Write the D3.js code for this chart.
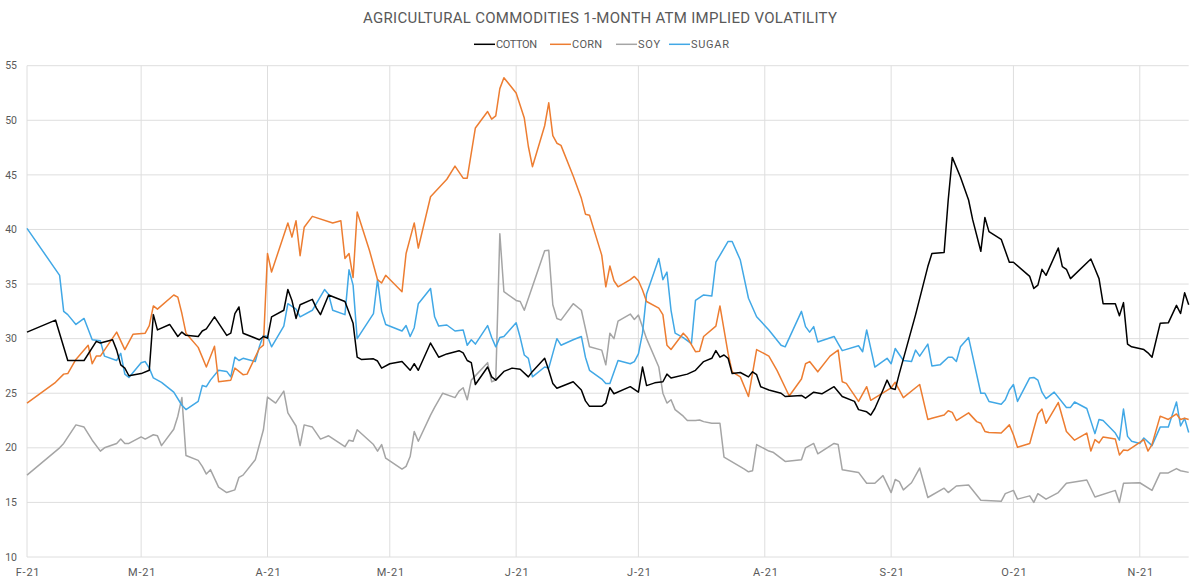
<!DOCTYPE html>
<html>
<head>
<meta charset="utf-8">
<script src="https://cdn.jsdelivr.net/npm/d3@7"></script>
<style>
  html, body { margin: 0; padding: 0; background: #fff; }
  svg { display: block; font-family: Roboto, "Open Sans", sans-serif; }
</style>
</head>
<body>
<script>
// 1-month ATM implied vol, 2021 (dates as MM-DD)
var cotton = [["02-01",30.6],["02-08",31.7],["02-11",28.0],["02-15",28.0],["02-18",29.75],["02-19",29.6],["02-22",29.9],["02-23",28.95],["02-24",27.6],["02-25",27.3],["02-26",26.6],["03-01",26.8],["03-03",27.1],["03-04",32.2],["03-05",30.8],["03-08",31.3],["03-10",30.2],["03-11",30.6],["03-12",30.3],["03-15",30.2],["03-16",30.7],["03-17",30.9],["03-19",32.0],["03-22",30.3],["03-23",30.5],["03-24",32.3],["03-25",32.9],["03-26",30.5],["03-30",29.9],["03-31",30.2],["04-01",30.05],["04-02",32.0],["04-05",32.6],["04-06",34.5],["04-07",33.5],["04-08",31.85],["04-09",33.1],["04-12",33.6],["04-13",32.8],["04-14",32.2],["04-16",34.0],["04-20",33.4],["04-22",31.4],["04-23",28.3],["04-24",28.1],["04-27",28.15],["04-28",27.95],["04-29",27.3],["05-01",27.7],["05-04",27.9],["05-06",27.1],["05-07",27.7],["05-08",27.1],["05-11",29.6],["05-13",28.3],["05-15",28.6],["05-18",28.9],["05-19",28.7],["05-20",28.0],["05-21",27.8],["05-22",25.8],["05-25",27.4],["05-26",26.5],["05-27",26.2],["05-29",27.0],["05-31",27.3],["06-02",27.2],["06-04",26.5],["06-05",27.0],["06-08",28.2],["06-09",27.1],["06-10",25.9],["06-11",25.45],["06-15",26.05],["06-17",25.3],["06-18",24.3],["06-19",23.8],["06-22",23.8],["06-23",24.1],["06-24",25.5],["06-25",24.95],["06-29",25.6],["07-01",25.1],["07-02",27.4],["07-03",25.7],["07-05",25.95],["07-07",26.05],["07-08",26.75],["07-09",26.4],["07-13",26.75],["07-15",27.1],["07-17",27.9],["07-19",28.2],["07-20",28.9],["07-21",28.3],["07-22",28.5],["07-23",28.2],["07-24",26.8],["07-26",26.9],["07-28",26.5],["07-29",26.96],["07-30",26.7],["07-31",25.6],["08-02",25.3],["08-05",25.0],["08-06",24.7],["08-10",24.8],["08-11",24.55],["08-13",25.1],["08-15",24.95],["08-18",25.6],["08-20",24.7],["08-23",24.25],["08-24",23.5],["08-26",23.3],["08-27",23.0],["08-28",23.6],["08-30",25.3],["08-31",26.2],["09-01",25.45],["09-02",25.35],["09-03",26.8],["09-07",32.2],["09-10",36.6],["09-11",37.8],["09-14",37.9],["09-15",42.7],["09-16",46.6],["09-18",44.8],["09-20",42.7],["09-21",40.9],["09-23",38.0],["09-24",41.1],["09-25",39.8],["09-28",39.1],["09-30",37.0],["10-01",37.0],["10-05",35.7],["10-06",34.6],["10-07",34.9],["10-08",36.35],["10-09",35.8],["10-12",38.3],["10-13",36.6],["10-14",36.35],["10-15",35.5],["10-20",37.3],["10-21",36.4],["10-22",35.5],["10-23",33.2],["10-26",33.2],["10-27",32.1],["10-28",33.3],["10-29",29.5],["10-30",29.25],["11-02",29.0],["11-03",28.7],["11-04",28.3],["11-06",31.4],["11-08",31.45],["11-10",33.05],["11-11",32.3],["11-12",34.2],["11-13",33.1]];

var corn = [["02-01",24.1],["02-08",26.0],["02-10",26.75],["02-11",26.8],["02-13",28.1],["02-16",29.4],["02-17",27.7],["02-18",28.4],["02-19",28.4],["02-23",30.6],["02-25",29.0],["02-27",30.4],["03-02",30.5],["03-03",31.2],["03-04",33.0],["03-05",32.7],["03-09",34.0],["03-10",33.8],["03-11",32.3],["03-12",30.5],["03-15",29.2],["03-17",27.4],["03-19",29.3],["03-20",26.05],["03-23",26.2],["03-24",27.3],["03-26",26.7],["03-27",26.75],["03-30",29.1],["03-31",29.4],["04-01",37.8],["04-02",36.1],["04-06",40.6],["04-07",39.3],["04-08",40.8],["04-09",37.6],["04-10",40.2],["04-12",41.2],["04-17",40.6],["04-19",40.8],["04-20",37.35],["04-21",37.8],["04-22",35.6],["04-23",41.6],["04-26",38.1],["04-28",35.4],["04-29",35.1],["04-30",35.8],["05-04",34.3],["05-05",37.8],["05-07",40.6],["05-08",38.3],["05-11",43.0],["05-15",44.6],["05-17",45.8],["05-19",44.7],["05-20",44.7],["05-22",49.3],["05-25",50.8],["05-26",50.1],["05-27",50.4],["05-28",52.9],["05-29",53.9],["06-01",52.5],["06-03",50.2],["06-04",47.6],["06-05",45.75],["06-08",49.5],["06-09",51.6],["06-10",48.6],["06-11",47.9],["06-12",47.7],["06-15",44.9],["06-17",42.85],["06-18",41.4],["06-19",41.3],["06-22",37.65],["06-23",34.75],["06-24",36.65],["06-25",35.3],["06-26",34.75],["06-29",35.4],["06-30",35.7],["07-01",35.3],["07-02",34.45],["07-03",33.4],["07-06",32.8],["07-07",32.2],["07-08",29.4],["07-09",29.0],["07-12",30.5],["07-13",30.1],["07-15",28.8],["07-16",28.85],["07-17",30.2],["07-20",31.15],["07-21",33.0],["07-23",28.65],["07-24",26.96],["07-26",26.5],["07-28",24.7],["07-30",29.0],["08-02",28.4],["08-04",27.1],["08-07",24.75],["08-10",26.3],["08-11",27.7],["08-12",27.9],["08-14",26.96],["08-17",28.4],["08-19",28.95],["08-20",26.05],["08-21",25.9],["08-24",24.25],["08-26",25.6],["08-27",24.35],["09-01",25.5],["09-02",26.0],["09-04",24.6],["09-08",25.8],["09-10",22.6],["09-11",22.7],["09-14",23.0],["09-15",23.4],["09-16",23.25],["09-17",22.5],["09-20",23.2],["09-22",22.4],["09-23",22.25],["09-24",21.5],["09-25",21.4],["09-28",21.35],["09-30",22.1],["10-01",21.2],["10-02",20.05],["10-05",20.4],["10-07",23.1],["10-08",23.55],["10-09",22.25],["10-12",24.15],["10-14",21.5],["10-16",20.7],["10-19",21.35],["10-20",19.7],["10-21",20.75],["10-22",20.45],["10-23",21.0],["10-26",20.8],["10-27",19.35],["10-28",19.8],["10-29",19.75],["11-02",20.75],["11-03",19.7],["11-04",20.3],["11-06",22.9],["11-08",22.6],["11-10",23.1],["11-11",22.6],["11-12",22.7],["11-13",22.6]];

var soy = [["02-01",17.5],["02-09",20.0],["02-10",20.4],["02-13",22.1],["02-15",21.9],["02-17",20.7],["02-19",19.7],["02-20",20.0],["02-23",20.4],["02-24",20.8],["02-25",20.4],["02-26",20.4],["03-01",21.0],["03-02",20.8],["03-04",21.2],["03-05",21.1],["03-06",20.2],["03-09",21.7],["03-10",22.9],["03-11",24.6],["03-12",19.3],["03-15",18.85],["03-16",18.3],["03-17",17.6],["03-18",18.0],["03-20",16.4],["03-22",15.9],["03-24",16.15],["03-25",17.3],["03-26",17.5],["03-29",18.9],["03-31",21.65],["04-01",24.65],["04-03",24.1],["04-05",25.2],["04-06",23.2],["04-08",22.0],["04-09",20.2],["04-10",22.1],["04-12",21.9],["04-14",20.8],["04-16",21.1],["04-20",20.1],["04-21",20.7],["04-22",20.6],["04-23",21.65],["04-27",20.3],["04-28",19.7],["04-29",20.3],["04-30",19.05],["05-04",18.05],["05-05",18.3],["05-06",19.2],["05-07",21.5],["05-08",20.6],["05-11",23.0],["05-12",23.7],["05-14",25.0],["05-17",24.6],["05-18",25.2],["05-19",25.5],["05-20",24.4],["05-21",26.2],["05-25",27.8],["05-26",26.05],["05-27",26.2],["05-28",39.6],["05-29",34.3],["06-01",33.5],["06-02",33.4],["06-03",32.6],["06-08",38.05],["06-09",38.1],["06-10",33.1],["06-11",31.85],["06-12",31.7],["06-15",33.2],["06-17",32.6],["06-19",29.25],["06-22",28.95],["06-23",27.6],["06-24",30.5],["06-25",30.0],["06-26",31.6],["06-29",32.25],["06-30",31.76],["07-01",32.16],["07-03",30.0],["07-06",27.4],["07-07",25.0],["07-08",24.1],["07-09",24.4],["07-10",23.5],["07-12",22.9],["07-13",22.5],["07-15",22.5],["07-16",22.55],["07-17",22.4],["07-19",22.25],["07-21",22.25],["07-22",19.15],["07-27",18.05],["07-28",17.8],["07-29",17.9],["07-30",20.3],["08-02",19.7],["08-03",19.6],["08-06",18.75],["08-10",18.9],["08-11",20.0],["08-13",20.4],["08-14",19.45],["08-18",20.4],["08-19",20.3],["08-20",18.0],["08-24",17.75],["08-26",16.75],["08-28",16.75],["08-30",17.45],["09-01",15.9],["09-02",17.1],["09-03",16.9],["09-04",16.15],["09-06",16.8],["09-08",18.15],["09-10",15.45],["09-14",16.3],["09-15",15.9],["09-17",16.5],["09-20",16.6],["09-23",15.2],["09-28",15.1],["09-29",15.8],["10-01",16.1],["10-02",15.3],["10-05",15.6],["10-06",15.0],["10-07",15.8],["10-09",15.3],["10-12",15.9],["10-14",16.75],["10-19",17.05],["10-21",15.5],["10-26",16.1],["10-27",15.0],["10-28",16.75],["11-01",16.8],["11-04",16.1],["11-06",17.7],["11-08",17.7],["11-10",18.1],["11-11",17.9],["11-13",17.75]];

var sugar = [["02-01",40.1],["02-09",35.8],["02-10",32.5],["02-11",32.2],["02-13",31.3],["02-15",31.85],["02-17",29.9],["02-19",29.8],["02-20",28.4],["02-23",28.0],["02-24",28.65],["02-25",26.75],["02-26",26.45],["03-01",27.8],["03-02",27.9],["03-03",27.3],["03-04",26.4],["03-06",26.0],["03-09",25.1],["03-11",23.9],["03-12",23.5],["03-15",24.25],["03-16",25.7],["03-17",25.6],["03-18",26.2],["03-20",27.1],["03-22",27.0],["03-23",26.5],["03-24",28.3],["03-25",28.0],["03-26",28.2],["03-29",27.9],["03-30",29.25],["03-31",30.3],["04-01",30.2],["04-02",29.25],["04-05",31.15],["04-06",33.2],["04-08",32.7],["04-09",32.0],["04-12",32.6],["04-15",34.5],["04-16",34.05],["04-17",32.6],["04-20",32.2],["04-21",36.3],["04-22",34.9],["04-23",30.0],["04-27",32.3],["04-28",35.4],["04-29",32.5],["04-30",31.3],["05-04",30.7],["05-05",31.2],["05-06",30.2],["05-07",31.0],["05-08",33.2],["05-11",34.6],["05-12",32.0],["05-13",31.15],["05-15",31.25],["05-17",30.7],["05-19",30.8],["05-20",29.4],["05-21",29.9],["05-22",29.5],["05-25",31.2],["05-26",30.1],["05-27",29.25],["05-28",30.1],["05-29",30.2],["06-01",31.45],["06-02",30.1],["06-03",28.5],["06-04",28.2],["06-05",26.5],["06-08",27.4],["06-09",27.3],["06-11",30.0],["06-12",29.4],["06-15",29.9],["06-17",30.2],["06-18",28.3],["06-19",27.1],["06-22",26.3],["06-23",25.9],["06-24",25.9],["06-26",28.0],["06-29",27.7],["06-30",27.9],["07-01",28.6],["07-02",30.5],["07-03",34.1],["07-06",37.35],["07-07",35.4],["07-08",36.1],["07-09",32.6],["07-10",30.5],["07-12",30.1],["07-14",29.55],["07-15",33.5],["07-17",34.0],["07-19",33.9],["07-20",37.0],["07-23",38.9],["07-24",38.9],["07-26",37.2],["07-28",33.7],["07-30",32.0],["08-02",30.8],["08-05",29.4],["08-06",29.25],["08-10",32.5],["08-11",31.1],["08-12",30.6],["08-13",31.1],["08-14",29.7],["08-18",30.2],["08-19",29.55],["08-20",28.9],["08-24",29.35],["08-25",28.8],["08-26",30.8],["08-28",27.4],["08-31",28.2],["09-01",27.7],["09-02",29.1],["09-04",28.0],["09-06",27.9],["09-07",28.95],["09-08",28.4],["09-10",29.5],["09-11",27.5],["09-13",27.6],["09-15",28.3],["09-16",28.3],["09-17",27.9],["09-18",29.25],["09-20",30.1],["09-23",25.0],["09-24",25.0],["09-25",24.25],["09-28",24.0],["09-29",24.4],["09-30",25.3],["10-01",25.8],["10-02",24.25],["10-05",26.4],["10-06",26.45],["10-07",26.2],["10-08",25.1],["10-09",24.5],["10-11",25.1],["10-14",23.7],["10-15",23.7],["10-16",24.2],["10-19",23.6],["10-21",21.3],["10-22",22.6],["10-23",22.5],["10-26",21.35],["10-27",20.7],["10-28",23.55],["10-29",21.05],["10-30",20.6],["11-01",20.4],["11-02",20.9],["11-04",20.2],["11-06",21.9],["11-08",21.9],["11-10",24.2],["11-11",22.0],["11-12",22.7],["11-13",21.4]];

var seriesNames = ["COTTON", "CORN", "SOY", "SUGAR"];
var seriesColors = ["#000000", "#ed7d31", "#a5a5a5", "#41a8e6"];
var monthLabels = ["F-21", "M-21", "A-21", "M-21", "J-21", "J-21", "A-21", "S-21", "O-21", "N-21"];
var yTicks = [10, 15, 20, 25, 30, 35, 40, 45, 50, 55];

var width = 1200, height = 583;
var margin = {top: 65.7, right: 11.3, bottom: 26, left: 27};

var parse = d3.timeParse("%Y-%m-%d");
function toPoints(arr) {
    return arr.map(function(d) { return {date: parse("2021-" + d[0]), value: d[1]}; });
}
var allSeries = [cotton, corn, soy, sugar].map(toPoints);

var x = d3.scaleTime()
    .domain([new Date(2021, 1, 1), new Date(2021, 10, 13)])
    .range([margin.left, width - margin.right]);

var y = d3.scaleLinear()
    .domain([10, 55])
    .range([height - margin.bottom, margin.top]);

var svg = d3.select("body").append("svg")
    .attr("width", width)
    .attr("height", height);

var months = d3.timeMonth.range(new Date(2021, 1, 1), new Date(2021, 10, 2));

// gridlines
svg.append("g")
    .selectAll("line")
    .data(yTicks)
    .enter().append("line")
    .attr("x1", margin.left).attr("x2", width - margin.right)
    .attr("y1", function(d) { return y(d); })
    .attr("y2", function(d) { return y(d); })
    .attr("stroke", "#dedede")
    .attr("stroke-width", 1);

svg.append("g")
    .selectAll("line")
    .data(months)
    .enter().append("line")
    .attr("x1", function(d) { return x(d); })
    .attr("x2", function(d) { return x(d); })
    .attr("y1", y(55)).attr("y2", y(10))
    .attr("stroke", "#dedede")
    .attr("stroke-width", 1);

// y labels
svg.append("g")
    .selectAll("text")
    .data(yTicks)
    .enter().append("text")
    .attr("x", 17)
    .attr("y", function(d) { return y(d); })
    .attr("dy", "0.35em")
    .attr("text-anchor", "end")
    .attr("fill", "#595959")
    .style("font-size", "10.5px")
    .text(function(d) { return d; });

// x labels
svg.append("g")
    .selectAll("text")
    .data(months)
    .enter().append("text")
    .attr("x", function(d) { return x(d) + 1; })
    .attr("y", 575.5)
    .attr("text-anchor", "middle")
    .attr("fill", "#595959")
    .style("font-size", "11px")
    .style("letter-spacing", "0.8px")
    .text(function(d, i) { return monthLabels[i]; });

// lines
var line = d3.line()
    .x(function(d) { return x(d.date); })
    .y(function(d) { return y(d.value); });

// draw order: soy, sugar, corn, cotton on top
[2, 3, 1, 0].forEach(function(i) {
    svg.append("path")
        .datum(allSeries[i])
        .attr("fill", "none")
        .attr("stroke", seriesColors[i])
        .attr("stroke-width", 1.5)
        .attr("stroke-linejoin", "round")
        .attr("d", line);
});

// title
svg.append("text")
    .attr("x", 363)
    .attr("y", 23)
    .attr("fill", "#595959")
    .attr("textLength", 474)
    .attr("lengthAdjust", "spacing")
    .style("font-size", "15px")
    .text("AGRICULTURAL COMMODITIES 1-MONTH ATM IMPLIED VOLATILITY");

// legend
var legendX = [474, 550, 616, 669];
var legendW = [41, 30, 22, 38];
var legend = svg.append("g");
seriesNames.forEach(function(name, i) {
    legend.append("line")
        .attr("x1", legendX[i]).attr("x2", legendX[i] + 21)
        .attr("y1", 44.3).attr("y2", 44.3)
        .attr("stroke", seriesColors[i])
        .attr("stroke-width", 1.5);
    legend.append("text")
        .attr("x", legendX[i] + 22)
        .attr("y", 48.3)
        .attr("fill", "#595959")
        .attr("textLength", legendW[i])
        .attr("lengthAdjust", "spacing")
        .style("font-size", "11px")
        .text(name);
});
</script>
</body>
</html>
